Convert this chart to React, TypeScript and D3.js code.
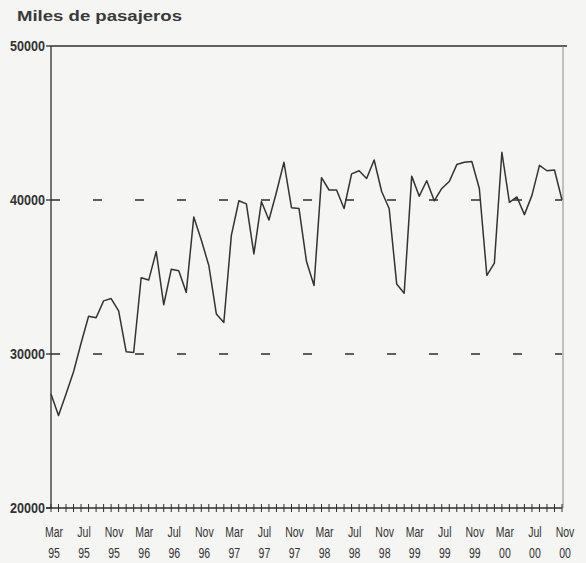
import * as d3 from 'd3'
import React from 'react'

// monthly passengers (thousands), Mar 1995 .. Nov 2000
const values = [
  27400, 26000, 27400, 28850, 30700, 32450, 32350, 33450, 33600, 32800, 30150, 30100,
  34950, 34800, 36650, 33200, 35500, 35400, 34000, 38900, 37400, 35750, 32600, 32050,
  37700, 39950, 39750, 36500, 39900, 38700, 40500, 42450, 39500, 39450, 36000, 34450,
  41450, 40650, 40650, 39450, 41700, 41900, 41400, 42600, 40550, 39450, 34550, 33950,
  41550, 40250, 41250, 39950, 40750, 41200, 42300, 42450, 42500, 40750, 35100, 35900,
  43100, 39850, 40200, 39050, 40300, 42250, 41900, 41950, 40000,
]

const xTickMonths = ['Mar', 'Jul', 'Nov', 'Mar', 'Jul', 'Nov', 'Mar', 'Jul', 'Nov',
  'Mar', 'Jul', 'Nov', 'Mar', 'Jul', 'Nov', 'Mar', 'Jul', 'Nov']
const xTickYears = ['95', '95', '95', '96', '96', '96', '97', '97', '97',
  '98', '98', '98', '99', '99', '99', '00', '00', '00']
const yTicks = [20000, 30000, 40000, 50000]
const gridValues = [30000, 40000]
const title = 'Miles de pasajeros'

const W = 586
const H = 563
const left = 51
const right = 562

const App = () => {
  const x = d3.scaleLinear().domain([0, values.length - 1]).range([left, right])
  const y = d3.scaleLinear().domain([20000, 50000]).range([508, 46])

  const line = d3.line<number>()
    .x((d, i) => x(i))
    .y(d => y(d))

  const ink = '#2e2e2e'
  const font = "'Liberation Sans', Arial, sans-serif"

  return (
    <svg width={W} height={H} style={{ position: 'absolute', left: 0, top: 0 }}>
      <rect x={0} y={0} width={W} height={H} fill="#f5f5f3" />

      <text x={17} y={21} fontFamily={font} fontWeight="bold"
        fontSize={15} fill="#3a3a3a" textLength={165} lengthAdjust="spacingAndGlyphs">
        {title}
      </text>

      {/* frame */}
      <line x1={left} x2={567} y1={y(50000)} y2={y(50000)} stroke={ink} strokeWidth={1.3} />
      <line x1={left} x2={left} y1={y(50000)} y2={y(20000)} stroke={ink} strokeWidth={1.3} />
      <line x1={right + 1} x2={right + 1} y1={y(50000)} y2={y(20000)} stroke="#8a8a8a" strokeWidth={1} />
      <line x1={left - 5} x2={right} y1={y(20000)} y2={y(20000)} stroke={ink} strokeWidth={1.3} />

      {/* monthly ticks */}
      {values.map((v, i) => (
        <line key={'t' + i} x1={x(i)} x2={x(i)} y1={y(20000) - 4} y2={y(20000) + 4}
          stroke={ink} strokeWidth={1} />
      ))}

      {/* dashed reference lines */}
      {gridValues.map(g => (
        <line key={'g' + g} x1={left} x2={right} y1={y(g)} y2={y(g)} stroke={ink}
          strokeWidth={1.3} strokeDasharray="9 33" />
      ))}

      {/* y ticks and labels */}
      {yTicks.map(t => (
        <g key={'y' + t}>
          <line x1={left - 5} x2={left} y1={y(t)} y2={y(t)} stroke={ink} strokeWidth={1.3} />
          <text x={45} y={y(t) + 5} textAnchor="end" fontFamily={font} fontSize={14}
            fontWeight="bold" fill="#333" textLength={35} lengthAdjust="spacingAndGlyphs">
            {String(t)}
          </text>
        </g>
      ))}

      {/* x labels */}
      {xTickMonths.map((m, k) => (
        <g key={'x' + k} transform={`translate(${x(k * 4) + 3},0) scale(0.75,1)`}>
          <text x={0} y={537} textAnchor="middle" fontFamily={font} fontSize={14}
            fill="#333">
            {m}
          </text>
          <text x={0} y={558} textAnchor="middle" fontFamily={font} fontSize={14}
            fill="#333">
            {xTickYears[k]}
          </text>
        </g>
      ))}

      <path d={line(values) || ''} fill="none" stroke="#333" strokeWidth={1.5}
        strokeLinejoin="round" />
    </svg>
  )
}

export default App
